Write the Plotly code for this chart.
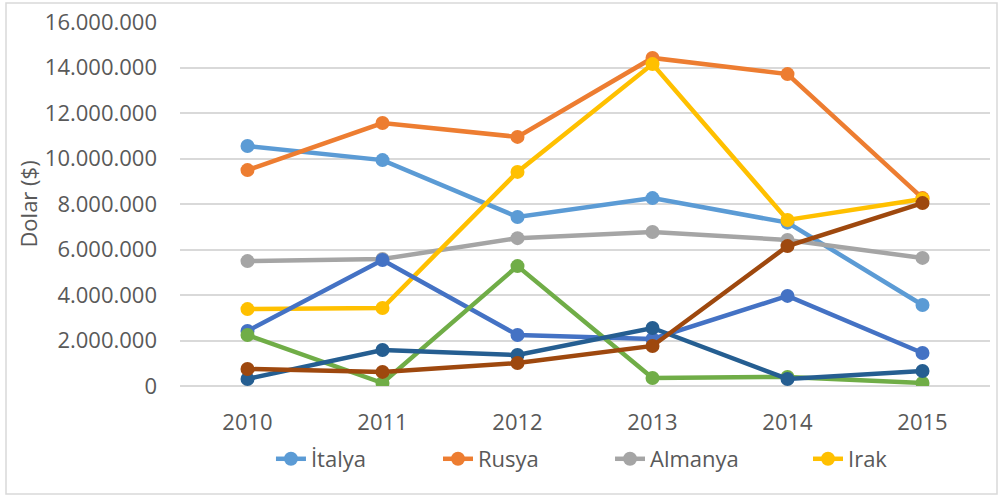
import plotly.graph_objects as go

years = ["2010", "2011", "2012", "2013", "2014", "2015"]

italya = [10550000, 9930000, 7430000, 8260000, 7180000, 3560000]
rusya = [9490000, 11560000, 10950000, 14420000, 13710000, 8260000]
almanya = [5490000, 5580000, 6500000, 6770000, 6420000, 5630000]
irak = [3380000, 3430000, 9410000, 14150000, 7300000, 8220000]
seri5 = [2420000, 5540000, 2240000, 2070000, 3960000, 1450000]
seri6 = [2240000, 130000, 5270000, 350000, 400000, 130000]
seri7 = [310000, 1580000, 1360000, 2550000, 310000, 660000]
seri8 = [750000, 620000, 1010000, 1760000, 6150000, 8040000]

series = [
    ("İtalya", italya, "#5B9BD5", "legend"),
    ("Rusya", rusya, "#ED7D31", "legend2"),
    ("Almanya", almanya, "#A5A5A5", "legend3"),
    ("Irak", irak, "#FFC000", "legend4"),
    ("Seri 5", seri5, "#4472C4", None),
    ("Seri 6", seri6, "#70AD47", None),
    ("Seri 7", seri7, "#255E91", None),
    ("Seri 8", seri8, "#9E480E", None),
]

fig = go.Figure()
for name, vals, color, leg in series:
    kw = dict(legend=leg, showlegend=True) if leg else dict(showlegend=False)
    fig.add_trace(go.Scatter(
        x=years, y=vals, name=name, mode="lines+markers",
        line=dict(color=color, width=4.5),
        marker=dict(color=color, size=14),
        **kw,
    ))

font_family = "Open Sans, Liberation Sans, sans-serif"
fs = 22
legend_y = -0.2005


def leg(x):
    return dict(orientation="h", x=x, xanchor="left", y=legend_y, yanchor="middle",
                font=dict(size=fs, color="#595959"), bgcolor="rgba(0,0,0,0)")


fig.update_layout(
    width=1002, height=497,
    margin=dict(l=180, r=12, t=22, b=111, autoexpand=False),
    paper_bgcolor="white", plot_bgcolor="white",
    separators=",.",
    font=dict(family=font_family, size=fs, color="#595959"),
    showlegend=True,
    legend=leg(0.1123),
    legend2=leg(0.3185),
    legend3=leg(0.5309),
    legend4=leg(0.7753),
    xaxis=dict(type="category", range=[-0.5, 5.5], showgrid=False, showline=False,
               zeroline=False, ticks="", ticklabelstandoff=21, automargin=False,
               ticklabeloverflow="allow"),
    yaxis=dict(range=[0, 16000000], dtick=2000000, tickformat=",d",
               showgrid=True, gridcolor="#D9D9D9", gridwidth=1.5,
               zeroline=True, zerolinecolor="#D9D9D9", zerolinewidth=1.5,
               showline=False, ticks="", ticklabelstandoff=22, automargin=False,
               ticklabeloverflow="allow",
               title=dict(text="Dolar ($)", font=dict(size=fs, color="#595959"), standoff=1)),
    shapes=[dict(type="rect", xref="paper", yref="paper",
                 x0=(6 - 180) / 810, x1=(997 - 180) / 810,
                 y0=(386 - 494) / 364, y1=(386 - 3) / 364,
                 line=dict(color="#D9D9D9", width=1.5), fillcolor="rgba(0,0,0,0)", layer="below")],
)

fig.write_html("out.html", config={"displayModeBar": False},
               post_script="document.body.style.margin='0';")
